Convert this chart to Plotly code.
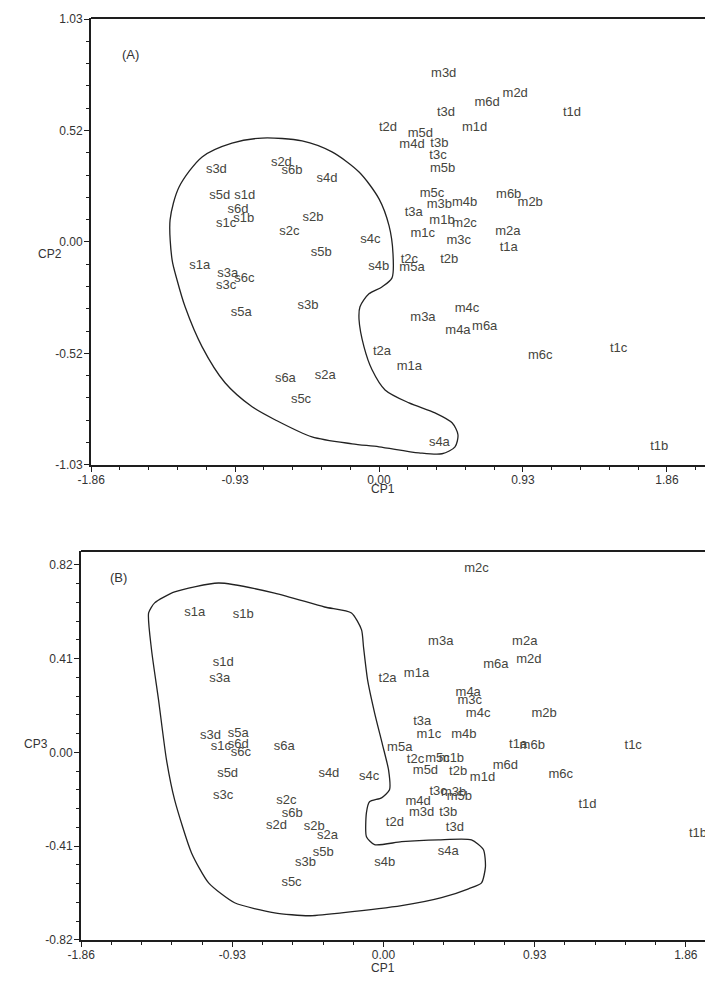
import plotly.graph_objects as go

# page body has an 8 px margin, so the figure is 8 px smaller and all
# reference pixel positions are shifted by OFF
OFF = 8
W, H = 713 - OFF, 985 - OFF


def px(x):
    return (x - OFF) / W


def py(y):
    return 1 - (y - OFF) / H


# ---------------- Panel A : CP1 vs CP2 ----------------
labels_a = ["s3d", "s2d", "s6b", "s4d", "s5d", "s1d", "s6d", "s1c", "s1b", "s2b",
            "s2c", "s4c", "s5b", "s1a", "s3a", "s6c", "s3c", "s4b", "s5a", "s3b",
            "m3d", "m6d", "m2d", "t3d", "t1d", "t2d", "m5d", "m1d", "m4d", "t3b",
            "t3c", "m5b", "m5c", "m3b", "t3a", "m4b", "m6b", "m2b", "m1b", "m2c",
            "m1c", "m3c", "m2a", "t1a", "t2b", "t2c", "m5a", "m3a", "m4c", "m4a",
            "m6a", "t2a", "m1a", "m6c", "t1c", "s4a", "t1b", "s6a", "s2a", "s5c"]
cp1_a = [-1.051, -0.631, -0.562, -0.336, -1.029, -0.868, -0.911, -0.988, -0.874, -0.426,
         -0.579, -0.056, -0.373, -1.158, -0.977, -0.870, -0.988, -0.002, -0.890, -0.459,
         0.418, 0.698, 0.880, 0.433, 1.247, 0.058, 0.267, 0.618, 0.213, 0.390,
         0.381, 0.411, 0.342, 0.390, 0.224, 0.553, 0.838, 0.977, 0.407, 0.553,
         0.282, 0.515, 0.833, 0.838, 0.454, 0.196, 0.213, 0.284, 0.568, 0.510,
         0.683, 0.019, 0.196, 1.042, 1.548, 0.390, 1.811, -0.605, -0.347, -0.504]
cp2_a = [0.333, 0.364, 0.329, 0.290, 0.212, 0.212, 0.151, 0.086, 0.105, 0.112,
         0.048, 0.012, -0.052, -0.111, -0.148, -0.170, -0.202, -0.114, -0.327, -0.296,
         0.779, 0.645, 0.687, 0.599, 0.599, 0.527, 0.502, 0.530, 0.451, 0.456,
         0.397, 0.339, 0.225, 0.171, 0.135, 0.182, 0.217, 0.182, 0.097, 0.086,
         0.040, 0.006, 0.048, -0.029, -0.083, -0.083, -0.121, -0.352, -0.311, -0.411,
         -0.394, -0.507, -0.576, -0.527, -0.494, -0.930, -0.945, -0.633, -0.619, -0.730]

hull_a_x = [-0.756, -0.497, -0.304, -0.129, 0.000, 0.065, 0.090, 0.084, 0.019, -0.065,
            -0.123, -0.129, -0.097, -0.045, 0.039, 0.194, 0.362, 0.472, 0.510, 0.491,
            0.407, 0.258, 0.000, -0.174, -0.433, -0.672, -0.820, -0.995, -1.143, -1.253,
            -1.305, -1.337, -1.350, -1.292, -1.143, -0.950, -0.756]
hull_a_y = [0.480, 0.467, 0.416, 0.323, 0.199, 0.074, -0.051, -0.166, -0.208, -0.240,
            -0.300, -0.360, -0.485, -0.591, -0.684, -0.744, -0.790, -0.836, -0.891, -0.947,
            -0.979, -0.975, -0.947, -0.933, -0.901, -0.822, -0.762, -0.651, -0.485, -0.300,
            -0.176, -0.083, 0.102, 0.254, 0.393, 0.457, 0.480]

# ---------------- Panel B : CP1 vs CP3 ----------------
labels_b = ["s1a", "s1b", "s1d", "s3a", "s3d", "s5a", "s1c", "s6d", "s6c", "s6a",
            "s5d", "s4d", "s4c", "s3c", "s2c", "s6b", "s2d", "s2b", "s2a", "s5b",
            "s3b", "s5c", "s4b", "s4a", "m2c", "m3a", "m2a", "m6a", "m2d", "t2a",
            "m1a", "m4a", "m3c", "m4c", "m2b", "t3a", "m1c", "m4b", "t1a", "m6b",
            "m5a", "t2c", "m5c", "m1b", "m5d", "t2b", "m1d", "m6d", "m6c", "t1c",
            "t1d", "t1b", "t3c", "m3b", "m5b", "m4d", "m3d", "t3b", "t3d", "t2d"]
cp1_b = [-1.161, -0.863, -0.986, -1.007, -1.064, -0.894, -1.001, -0.894, -0.878, -0.611,
         -0.959, -0.336, -0.088, -0.986, -0.597, -0.562, -0.658, -0.426, -0.344, -0.371,
         -0.480, -0.566, 0.008, 0.398, 0.572, 0.352, 0.869, 0.691, 0.894, 0.025,
         0.203, 0.521, 0.531, 0.582, 0.988, 0.238, 0.279, 0.494, 0.828, 0.915,
         0.100, 0.197, 0.332, 0.418, 0.258, 0.459, 0.609, 0.750, 1.090, 1.536,
         1.255, 1.935, 0.336, 0.431, 0.467, 0.213, 0.234, 0.398, 0.439, 0.070]
cp3_b = [0.613, 0.604, 0.393, 0.321, 0.073, 0.081, 0.025, 0.033, -0.003, 0.025,
         -0.095, -0.093, -0.108, -0.190, -0.211, -0.270, -0.321, -0.327, -0.365, -0.441,
         -0.482, -0.572, -0.482, -0.434, 0.805, 0.482, 0.482, 0.383, 0.405, 0.320,
         0.343, 0.261, 0.225, 0.171, 0.168, 0.132, 0.077, 0.077, 0.033, 0.030,
         0.018, -0.033, -0.028, -0.028, -0.079, -0.083, -0.109, -0.058, -0.098, 0.028,
         -0.230, -0.356, -0.171, -0.177, -0.195, -0.215, -0.263, -0.266, -0.329, -0.307]

hull_b_x = [-1.445, -1.408, -1.285, -1.015, -0.670, -0.363, -0.197, -0.135, -0.123, -0.098,
            -0.055, -0.006, 0.031, 0.037, -0.012, -0.086, -0.105, -0.105, -0.055, 0.111,
            0.338, 0.541, 0.615, 0.627, 0.603, 0.523, 0.357, 0.111, -0.258, -0.461,
            -0.670, -0.916, -1.076, -1.181, -1.285, -1.335, -1.384, -1.427, -1.445]
hull_b_y = [0.610, 0.654, 0.702, 0.741, 0.697, 0.636, 0.610, 0.536, 0.461, 0.317,
            0.173, 0.033, -0.077, -0.164, -0.199, -0.216, -0.264, -0.369, -0.404, -0.391,
            -0.383, -0.383, -0.426, -0.501, -0.571, -0.597, -0.636, -0.671, -0.702, -0.715,
            -0.702, -0.658, -0.571, -0.440, -0.208, -0.033, 0.230, 0.448, 0.610]

# ---------------- Ticks ----------------
x_tickvals = [-1.86, -0.93, 0.0, 0.93, 1.86]
x_ticktext = ["-1.86", "-0.93", "0.00", "0.93", "1.86"]
ya_tickvals = [-1.03, -0.515, 0.0, 0.515, 1.03]
ya_ticktext = ["-1.03", "-0.52", "0.00", "0.52", "1.03"]
yb_tickvals = [-0.82, -0.41, 0.0, 0.41, 0.82]
yb_ticktext = ["-0.82", "-0.41", "0.00", "0.41", "0.82"]

FONT = "Liberation Sans, Arial, sans-serif"
LBL_COL = "#45453d"
AX_COL = "#1e1e1e"
TXT_COL = "#333333"
TICK_FONT = dict(family=FONT, size=12, color=TXT_COL)

fig = go.Figure()

fig.add_trace(go.Scatter(x=hull_a_x, y=hull_a_y, mode="lines",
                         line=dict(color="#222222", width=1.3, shape="spline", smoothing=0.8),
                         xaxis="x", yaxis="y", hoverinfo="skip"))
fig.add_trace(go.Scatter(x=cp1_a, y=cp2_a, mode="text", text=labels_a,
                         textposition="middle center", cliponaxis=False,
                         textfont=dict(family=FONT, size=13, color=LBL_COL),
                         xaxis="x", yaxis="y"))
fig.add_trace(go.Scatter(x=hull_b_x, y=hull_b_y, mode="lines",
                         line=dict(color="#222222", width=1.3, shape="spline", smoothing=0.6),
                         xaxis="x2", yaxis="y2", hoverinfo="skip"))
fig.add_trace(go.Scatter(x=cp1_b, y=cp3_b, mode="text", text=labels_b,
                         textposition="middle center", cliponaxis=False,
                         textfont=dict(family=FONT, size=13, color=LBL_COL),
                         xaxis="x2", yaxis="y2"))


def axis_common(tickvals, ticktext, minor_dtick, standoff):
    return dict(tickmode="array", tickvals=tickvals, ticktext=ticktext,
                ticks="outside", ticklen=5, tickwidth=1.2, tickcolor=AX_COL,
                showline=True, linecolor=AX_COL, linewidth=2, automargin=False,
                showgrid=False, zeroline=False, tickfont=TICK_FONT,
                ticklabelstandoff=standoff,
                minor=dict(ticks="outside", ticklen=3, tickwidth=1, tickcolor=AX_COL,
                           tick0=0, dtick=minor_dtick, showgrid=False))


fig.update_layout(
    width=W, height=H, autosize=False,
    margin=dict(l=0, r=0, t=0, b=0, pad=0),
    paper_bgcolor="white", plot_bgcolor="white",
    showlegend=False,
    xaxis=dict(domain=[px(91), 1.0], range=[-1.861, 2.158], anchor="y",
               **axis_common(x_tickvals, x_ticktext, 0.186, -2)),
    yaxis=dict(domain=[py(465), py(18)], range=[-1.031, 1.035], anchor="x",
               **axis_common(ya_tickvals, ya_ticktext, 0.103, -1)),
    xaxis2=dict(domain=[px(81), 1.0], range=[-1.861, 2.027], anchor="y2",
                **axis_common(x_tickvals, x_ticktext, 0.186, -2)),
    yaxis2=dict(domain=[py(940), py(551)], range=[-0.821, 0.881], anchor="x2",
                **axis_common(yb_tickvals, yb_ticktext, 0.082, -1)),
    shapes=[
        dict(type="line", xref="x domain", yref="y domain", x0=0, x1=1, y0=1, y1=1,
             line=dict(color=AX_COL, width=2)),
        dict(type="line", xref="x2 domain", yref="y2 domain", x0=0, x1=1, y0=1, y1=1,
             line=dict(color=AX_COL, width=2)),
    ],
    annotations=[
        dict(text="(A)", x=px(120), y=py(45), xref="paper", yref="paper",
             showarrow=False, font=dict(family=FONT, size=13, color=TXT_COL)),
        dict(text="(B)", x=px(108), y=py(577), xref="paper", yref="paper",
             showarrow=False, font=dict(family=FONT, size=13, color=TXT_COL)),
        dict(text="CP1", x=px(383), y=py(489), xref="paper", yref="paper",
             showarrow=False, font=dict(family=FONT, size=12, color=TXT_COL)),
        dict(text="CP1", x=px(383), y=py(977), xref="paper", yref="paper",
             showarrow=False, font=dict(family=FONT, size=12, color=TXT_COL)),
        dict(text="CP2", x=px(36), y=py(245), xref="paper", yref="paper",
             showarrow=False, font=dict(family=FONT, size=12, color=TXT_COL)),
        dict(text="CP3", x=px(22), y=py(753), xref="paper", yref="paper",
             showarrow=False, font=dict(family=FONT, size=12, color=TXT_COL)),
    ],
)

fig.write_html("out.html")
